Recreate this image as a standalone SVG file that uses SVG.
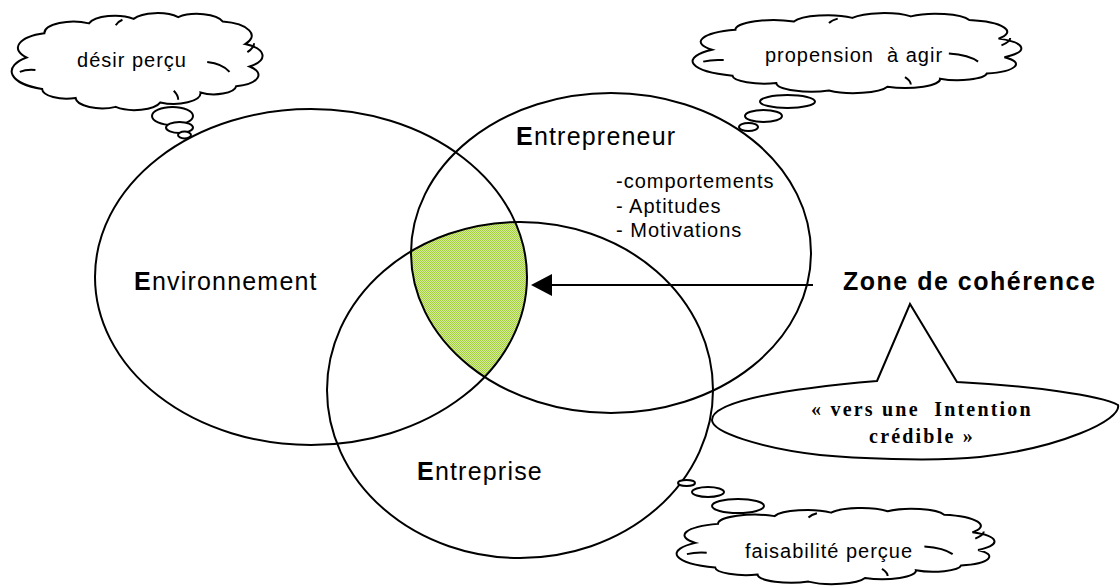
<svg xmlns="http://www.w3.org/2000/svg" xmlns:xlink="http://www.w3.org/1999/xlink" width="1120" height="588" viewBox="0 0 1120 588">
<style>
.ln{fill:none;stroke:#000;stroke-width:2}
.bub{fill:#fff;stroke:#000;stroke-width:2}
.cl{fill:#fff;stroke:#000;stroke-width:2;vector-effect:non-scaling-stroke}
.cli{fill:none;stroke:#000;stroke-width:2;vector-effect:non-scaling-stroke}
.big{font-family:"Liberation Sans",Arial,sans-serif;font-size:25px;letter-spacing:1.2px;fill:#000}
.sm{font-family:"Liberation Sans",Arial,sans-serif;font-size:20px;letter-spacing:1px;fill:#000;white-space:pre}
.zone{font-family:"Liberation Sans",Arial,sans-serif;font-size:25px;font-weight:bold;letter-spacing:1.5px;fill:#000}
.ser{font-family:"Liberation Serif","Times New Roman",serif;font-size:20px;font-weight:bold;letter-spacing:2.2px;fill:#000;white-space:pre}
</style>
<defs>
<pattern id="chk" width="2" height="2" patternUnits="userSpaceOnUse">
<rect width="2" height="2" fill="#d6ec9c"/>
<rect width="1" height="1" fill="#a4cf3c"/>
<rect x="1" y="1" width="1" height="1" fill="#a4cf3c"/>
</pattern>
<clipPath id="cpEnv"><ellipse cx="311" cy="277" rx="216" ry="168"/></clipPath>
<clipPath id="cpEpr"><ellipse cx="611" cy="253" rx="200" ry="160"/></clipPath>
<g id="cloud">
<path class="cl" d="M0,45 A17,17 0 0 1 8,18 A13,13 0 0 1 28,7 A12,12 0 0 1 48,2 A12,12 0 0 1 68,0 A12,12 0 0 1 88,5 A16,16 0 0 1 98,30 A15,15 0 0 1 100,55 A13,13 0 0 1 94,77 A10,10 0 0 1 78,84 A12,12 0 0 1 60,95 A12,12 0 0 1 40,100 A12,12 0 0 1 22,90 A11,11 0 0 1 7,80 A21,21 0 0 1 0,45 Z"/>
<path class="cli" d="M-3,61 Q0,58 4,59 M81,50 Q88,52 91,61 M99,39 Q102,34 102,29 M66,82 Q68,87 68,92 M40,9 Q41,5 43,3"/>
</g>
<marker id="arr" viewBox="0 0 21 22" refX="7" refY="11" markerWidth="21" markerHeight="22" markerUnits="userSpaceOnUse" orient="auto">
<path d="M0,0 L21,11 L0,22 Z" fill="#000"/>
</marker>
</defs>
<rect width="1120" height="588" fill="#fff"/>

<g id="zone-coherence-fill" clip-path="url(#cpEnv)">
<ellipse cx="520" cy="390" rx="193" ry="168" fill="url(#chk)" clip-path="url(#cpEpr)"/>
</g>

<g id="node-environnement">
<ellipse class="ln" cx="311" cy="277" rx="216" ry="168"/>
<text class="big" x="134" y="290"><tspan font-weight="bold">E</tspan>nvironnement</text>
</g>

<g id="node-entrepreneur">
<ellipse class="ln" cx="611" cy="253" rx="200" ry="160"/>
<text class="big" x="516" y="145"><tspan font-weight="bold">E</tspan>ntrepreneur</text>
<text class="sm" x="616" y="188">-comportements</text>
<text class="sm" x="616" y="213">- Aptitudes</text>
<text class="sm" x="616" y="237">- Motivations</text>
</g>

<g id="node-entreprise">
<ellipse class="ln" cx="520" cy="390" rx="193" ry="168"/>
<text class="big" x="417" y="480"><tspan font-weight="bold">E</tspan>ntreprise</text>
</g>

<g id="cloud-desir">
<use href="#cloud" xlink:href="#cloud" transform="translate(26.5,17.1) scale(2.231,0.898)"/>
<ellipse class="bub" cx="172.5" cy="116" rx="20.5" ry="9"/>
<ellipse class="bub" cx="179.5" cy="127.5" rx="13.5" ry="5.5"/>
<ellipse class="bub" cx="184.5" cy="135" rx="6.5" ry="3.5"/>
<text class="sm" x="132" y="67" text-anchor="middle">désir perçu</text>
</g>

<g id="cloud-propension">
<use href="#cloud" xlink:href="#cloud" transform="translate(712,16.4) scale(2.924,0.741)"/>
<ellipse class="bub" cx="787.5" cy="101.5" rx="27.5" ry="6.5"/>
<ellipse class="bub" cx="763.5" cy="116" rx="18.5" ry="6"/>
<ellipse class="bub" cx="748.5" cy="127" rx="9.5" ry="4"/>
<text class="sm" x="854" y="62" text-anchor="middle">propension  à agir</text>
</g>

<g id="cloud-faisabilite">
<use href="#cloud" xlink:href="#cloud" transform="translate(695.4,511.2) scale(2.827,0.704)"/>
<ellipse class="bub" cx="738" cy="506" rx="26" ry="7"/>
<ellipse class="bub" cx="708" cy="492" rx="16" ry="5"/>
<ellipse class="bub" cx="686.5" cy="483" rx="8.5" ry="3"/>
<text class="sm" x="829" y="558" text-anchor="middle">faisabilité perçue</text>
</g>

<g id="node-zone">
<text class="zone" x="843" y="290">Zone de cohérence</text>
<path class="bub" d="M877,381 L910,304 L957,382 C1030,386 1100,395 1118,405 C1122,420 1060,448 980,457 C930,462 850,458 820,455 C760,448 712,432 712,420 C712,405 760,391 877,381 Z"/>
<text class="ser" x="922" y="416" text-anchor="middle">« vers une  Intention</text>
<text class="ser" x="922" y="443" text-anchor="middle">crédible »</text>
</g>

<g id="connectors">
<line class="ln" x1="813" y1="285" x2="545" y2="285" marker-end="url(#arr)"/>
</g>
</svg>
